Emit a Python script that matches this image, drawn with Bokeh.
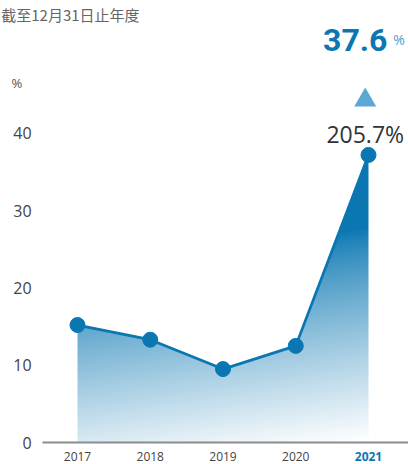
import numpy as np
from bokeh.plotting import figure
from bokeh.models import Label, Range1d
from bokeh.embed import file_html
from bokeh.resources import INLINE

# ---- data ----
years = ["2017", "2018", "2019", "2020", "2021"]
values = [15.2, 13.3, 9.5, 12.5, 37.2]
y_ticks = [0, 10, 20, 30, 40]
headline = "37.6"
headline_unit = "%"
change_label = "205.7%"
title_text = "截至12月31日止年度"
unit_label = "%"

idx = list(range(len(years)))
BLUE = "#0a77b2"

CW, CH = 408, 464
SX, SY = 72.75, 7.73          # px per unit
OX, OY = 77.0, 442.0          # canvas position of (0, 0)
X0, X1 = -OX / SX, (CW - OX) / SX
Y0, Y1 = -(CH - OY) / SY, OY / SY

p = figure(width=CW, height=CH, output_backend="svg", toolbar_location=None,
           x_range=Range1d(X0, X1), y_range=Range1d(Y0, Y1),
           min_border=0)
p.outline_line_color = None
p.grid.visible = False
p.xaxis.visible = False
p.yaxis.visible = False
p.background_fill_color = "white"
p.border_fill_color = "white"

# gradient fill under the line (image masked above the line)
gx0, gx1 = idx[0], idx[-1]
gy1 = max(values)
W, H = 400, 400
gxs = np.linspace(gx0, gx1, W)
gys = np.linspace(0, gy1, H)
GX, GY = np.meshgrid(gxs, gys)
t = ((27.8 - GY) + 1.374 * (GX - gx1)) / 27.6
t = np.clip(t, 0, 1) ** 0.8
img = np.empty((H, W), dtype=np.uint32)
view = img.view(dtype=np.uint8).reshape((H, W, 4))
view[..., 0] = (10 + (255 - 10) * t).astype(np.uint8)
view[..., 1] = (119 + (255 - 119) * t).astype(np.uint8)
view[..., 2] = (178 + (255 - 178) * t).astype(np.uint8)
view[..., 3] = 255
p.image_rgba(image=[img], x=gx0, y=0, dw=gx1 - gx0, dh=gy1)
p.patch(x=[gx0 - 0.05, gx0 - 0.05] + idx + [gx1 + 0.05, gx1 + 0.05],
        y=[gy1 + 1, values[0]] + values + [values[-1], gy1 + 1],
        fill_color="white", line_color=None)

# x axis line
p.segment(x0=[-0.481], y0=[0], x1=[X1], y1=[0], line_color="#8c8c8c",
          line_width=2)

p.line(idx, values, color=BLUE, line_width=2.8)
p.scatter(idx, values, size=15, color=BLUE)

# y tick labels
for v in y_ticks:
    p.add_layout(Label(x=-0.63, y=v, text=str(v), text_font="Open Sans",
                       text_font_size="16px", text_color="#444444",
                       text_align="right", text_baseline="middle"))

# category labels
for i, yr in zip(idx, years):
    last = (i == idx[-1])
    p.add_layout(Label(x=i, y=-1.8, text=yr, text_font="Open Sans",
                       text_font_size="12px",
                       text_font_style="bold" if last else "normal",
                       text_color=BLUE if last else "#444444",
                       text_align="center", text_baseline="middle"))

# change indicator
p.scatter(x=[idx[-1] - 0.045], y=[44.28], marker="triangle", size=22,
          color="#5aa8d3", line_color=None)
p.add_layout(Label(x=idx[-1] - 0.045, y=39.94, text=change_label,
                   text_font="Open Sans", text_font_size="23px",
                   text_color="#333333", text_align="center",
                   text_baseline="alphabetic"))

# header texts
p.add_layout(Label(x=X0 + 0.01, y=55.37, text=title_text,
                   text_font="Noto Sans CJK TC", text_font_size="15px",
                   text_color="#666666", text_align="left",
                   text_baseline="middle"))
p.add_layout(Label(x=-0.832, y=46.57, text=unit_label,
                   text_font="Open Sans", text_font_size="13px",
                   text_color="#555555", text_align="center",
                   text_baseline="middle"))
p.add_layout(Label(x=4.26, y=52.1, text=headline, text_font="Roboto",
                   text_font_size="32px", text_font_style="bold",
                   text_color=BLUE, text_align="right",
                   text_baseline="alphabetic"))
p.add_layout(Label(x=4.34, y=52.1, text=headline_unit, text_font="Open Sans",
                   text_font_size="14px", text_color="#4a9fd0",
                   text_align="left", text_baseline="alphabetic"))

open("out.html", "w").write(file_html(p, INLINE))
